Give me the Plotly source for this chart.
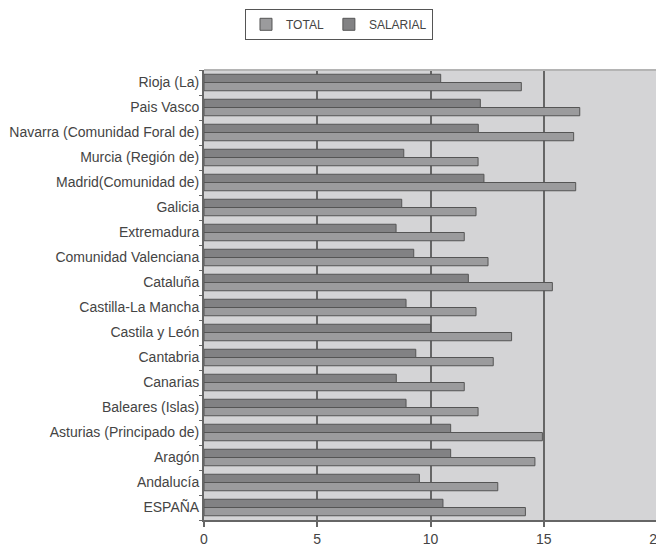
import plotly.graph_objects as go

categories = ["ESPAÑA", "Andalucía", "Aragón", "Asturias (Principado de)", "Baleares (Islas)",
              "Canarias", "Cantabria", "Castila y León", "Castilla-La Mancha", "Cataluña",
              "Comunidad Valenciana", "Extremadura", "Galicia", "Madrid(Comunidad de)",
              "Murcia (Región de)", "Navarra (Comunidad Foral de)", "Pais Vasco", "Rioja (La)"]
total = [14.19, 12.97, 14.61, 14.94, 12.10, 11.49, 12.77, 13.58, 12.01, 15.38,
         12.54, 11.49, 12.01, 16.41, 12.10, 16.32, 16.59, 14.01]
salarial = [10.55, 9.51, 10.89, 10.89, 8.92, 8.49, 9.35, 10.0, 8.92, 11.67,
            9.26, 8.48, 8.73, 12.36, 8.82, 12.11, 12.20, 10.45]
x_ticks = [0, 5, 10, 15, 20]

FONT = "Liberation Sans"
TXT = "#444444"

fig = go.Figure()
fig.add_trace(go.Bar(y=categories, x=total, orientation="h", name="TOTAL",
                     marker=dict(color="#9b9b9d", line=dict(color="#555555", width=1))))
fig.add_trace(go.Bar(y=categories, x=salarial, orientation="h", name="SALARIAL",
                     marker=dict(color="#828284", line=dict(color="#555555", width=1))))

fig.update_layout(
    width=656, height=540,
    margin=dict(l=196, r=7, t=62, b=28, autoexpand=False),
    paper_bgcolor="white", plot_bgcolor="#d4d4d6",
    barmode="group", bargap=0.34, bargroupgap=0,
    font=dict(family=FONT, size=14, color=TXT),
    showlegend=True,
    legend=dict(orientation="h", x=0.298, xanchor="center", y=1.136, yanchor="top",
                bordercolor="#555555", borderwidth=1, bgcolor="white",
                font=dict(size=12, color=TXT), itemwidth=30, tracegroupgap=0,
                traceorder="normal"),
)
fig.update_xaxes(range=[0, 20], tickvals=x_ticks, ticktext=[str(v) for v in x_ticks],
                 showgrid=True, gridcolor="#666666", gridwidth=2,
                 showline=True, linecolor="#666666", linewidth=2,
                 ticks="outside", ticklen=5, tickcolor="#666666", tickwidth=2,
                 zeroline=False, ticklabeloverflow="allow", automargin=False,
                 tickfont=dict(size=14, color=TXT))
fig.update_yaxes(type="category", categoryorder="array", categoryarray=categories,
                 tickson="boundaries", ticks="outside", ticklen=3, tickcolor="#666666",
                 showline=True, linecolor="#666666", linewidth=2, showgrid=False,
                 automargin=False, tickfont=dict(size=14, color=TXT))
fig.add_shape(type="line", xref="paper", yref="paper", x0=0, x1=1, y0=1, y1=1,
              line=dict(color="#b4b4b4", width=2))
fig.add_shape(type="line", xref="paper", yref="paper", x0=1, x1=1, y0=0, y1=1,
              line=dict(color="#b4b4b4", width=2))

fig.write_html("out.html")
